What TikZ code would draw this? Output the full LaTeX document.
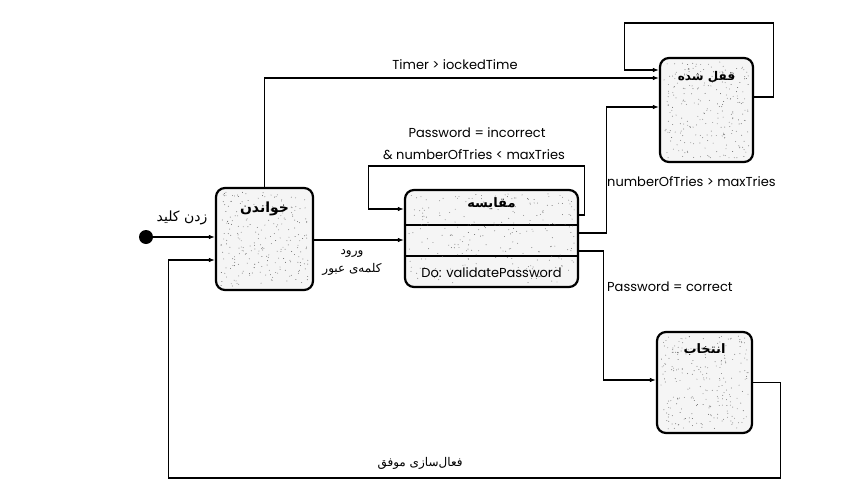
\documentclass[tikz,border=0pt]{standalone}
\usepackage{fontspec}
\setmainfont{Poppins}
\newfontfamily\fa[Script=Arabic]{DejaVu Sans}
\TeXXeTstate=1
\usetikzlibrary{arrows.meta,calc}

\newcommand{\fatext}[1]{{\fa\beginR #1\endR}}

\begin{document}
\begin{tikzpicture}[x=1pt,y=-1pt,
  state/.style={draw,line width=2.2pt,rounded corners=9pt,fill=black!4,inner sep=0pt},
  flow/.style={line width=1.1pt,-{Latex[length=6pt,width=4.5pt]}},
  lbl/.style={font=\fontsize{13}{15}\selectfont,inner sep=0pt},
  falbl/.style={font=\fa\fontsize{12}{14}\selectfont,inner sep=0pt},
  ttl/.style={font=\fa\bfseries\fontsize{13}{15}\selectfont,inner sep=0pt}]
\useasboundingbox (0,0) rectangle (858,487);

% states
\node[state,minimum width=97,minimum height=102] (read) at (264.5,239) {};
\node[state,minimum width=173,minimum height=97] (cmp) at (491.5,238.5) {};
\node[state,minimum width=93,minimum height=104] (lock) at (706.5,110) {};
\node[state,minimum width=95,minimum height=101] (sel) at (704.5,382.5) {};

% compartments of the compare state
\draw[line width=1.2pt] (cmp.west |- 0,225) -- (cmp.east |- 0,225);
\draw[line width=1.2pt] (cmp.west |- 0,256) -- (cmp.east |- 0,256);

% speckled texture inside the states
\pgfmathsetseed{42}
\foreach \b in {read,cmp,lock,sel}{
  \foreach \i in {1,...,240}{
    \fill[black!60] let \p1=(\b.south west), \p2=(\b.north east) in
      ({\x1+5pt+rnd*(\x2-\x1-10pt)},{\y1+5pt+rnd*(\y2-\y1-10pt)}) circle (0.45pt);
  }
}

% state names and activity
\node[ttl,font=\fa\bfseries\fontsize{14}{16}\selectfont] (readT) at ([yshift=-22pt]read.north) {\fatext{خواندن}};
\node[ttl] (cmpT) at ([yshift=-15pt]cmp.north) {\fatext{مقایسه}};
\node[ttl,font=\fa\bfseries\fontsize{12}{14}\selectfont] (lockT) at ([yshift=-20pt]lock.north) {\fatext{قفل شده}};
\node[ttl] (selT) at ([yshift=-19pt]sel.north) {\fatext{انتخاب}};
\node[lbl] (doT) at ([yshift=15pt]cmp.south) {Do: validatePassword};

% initial pseudo-state
\node[circle,fill=black,minimum size=14pt,inner sep=0pt] (init) at (146,237) {};
\draw[flow] (init.east) -- (read.west |- init);
\node[falbl,font=\fa\fontsize{14}{16}\selectfont] (keyL) at (182,218) {\fatext{زدن کلید}};

% transitions
\draw[flow] ([yshift=-1pt]read.east) -- ([yshift=-1pt]read.east -| cmp.west);
\node[falbl] (entL1) at (352,253) {\fatext{ورود}};
\node[falbl] (entL2) at (352,269) {\fatext{کلمه‌ی عبور}};

\draw[flow] ([yshift=23.5pt]cmp.east) -- ++(5,0) -- ++(0,-49) -- ++(-216,0) |- ([yshift=29.5pt]cmp.west);
\node[lbl] (incL1) at (477,133) {Password = incorrect};
\node[lbl] (incL2) at (474,155) {\& numberOfTries < maxTries};

\draw[flow] ([yshift=5.5pt]cmp.east) -- ++(27,0) |- ([yshift=3pt]lock.west);
\node[lbl,anchor=west] (maxL) at (607,182) {numberOfTries > maxTries};

\draw[flow] ([yshift=-12.5pt]cmp.east) -- ++(24,0) |- ([yshift=2.5pt]sel.west);
\node[lbl,anchor=west] (okL) at (607,287) {Password = correct};

\draw[flow] (read.north) |- ([yshift=32pt]lock.west);
\node[lbl] (timeL) at (455,65) {Timer > iockedTime};

\draw[flow] ([yshift=13pt]lock.east) -- ++(19,0) -- ++(0,-74) -- ++(-149,0) |- ([yshift=40pt]lock.west);

\draw[flow] (sel.east) -- ++(27,0) -- ++(0,95.5) -- ++(-612,0) |- ([yshift=-21pt]read.west);
\node[falbl] (doneL) at (420,463) {\fatext{فعال‌سازی موفق}};
\end{tikzpicture}
\end{document}
